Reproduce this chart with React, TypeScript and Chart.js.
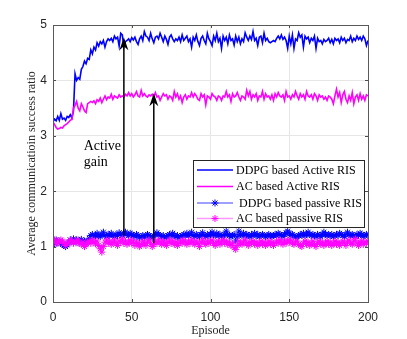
import React, { useEffect, useRef } from "react";
import { Chart, registerables } from "chart.js";

Chart.register(...registerables);

const episodes: number[] = Array.from({ length: 201 }, (_, i) => i);

const ddpgActive: number[] = [
  3.25, 3.3, 3.27, 3.35, 3.28, 3.4, 3.3, 3.32, 3.28, 3.35, 3.33, 3.38, 3.32, 3.45, 4.12,
  4.0, 4.05, 4.02, 4.2, 4.25, 4.35, 4.3, 4.4, 4.38, 4.55, 4.48, 4.6, 4.55, 4.68, 4.62,
  4.7, 4.66, 4.72, 4.6, 4.7, 4.75, 4.72, 4.76, 4.7, 4.8, 4.75, 4.78, 4.62, 4.85, 4.82,
  4.6, 4.7, 4.72, 4.75, 4.7, 4.77, 4.73, 4.78, 4.7, 4.65, 4.75, 4.8, 4.72, 4.88, 4.8,
  4.78, 4.72, 4.85, 4.75, 4.68, 4.78, 4.8, 4.75, 4.85, 4.78, 4.7, 4.8, 4.74, 4.65, 4.78,
  4.82, 4.75, 4.7, 4.75, 4.72, 4.78, 4.7, 4.82, 4.72, 4.76, 4.8, 4.7, 4.75, 4.6, 4.78,
  4.72, 4.82, 4.7, 4.63, 4.76, 4.8, 4.72, 4.66, 4.85, 4.75, 4.7, 4.63, 4.8, 4.72, 4.85,
  4.7, 4.76, 4.58, 4.8, 4.72, 4.78, 4.66, 4.82, 4.72, 4.75, 4.64, 4.8, 4.7, 4.78, 4.66,
  4.75, 4.7, 4.86, 4.78, 4.72, 4.8, 4.74, 4.88, 4.72, 4.76, 4.63, 4.78, 4.8, 4.68, 4.85,
  4.72, 4.76, 4.7, 4.68, 4.7, 4.72, 4.7, 4.76, 4.8, 4.75, 4.82, 4.74, 4.78, 4.72, 4.58,
  4.8, 4.66, 4.82, 4.58, 4.75, 4.72, 4.86, 4.78, 4.82, 4.6, 4.8, 4.75, 4.78, 4.68, 4.76,
  4.72, 4.8, 4.58, 4.76, 4.7, 4.72, 4.66, 4.74, 4.7, 4.72, 4.76, 4.68, 4.74, 4.66, 4.76,
  4.72, 4.75, 4.68, 4.78, 4.72, 4.76, 4.68, 4.74, 4.72, 4.8, 4.7, 4.76, 4.72, 4.8, 4.74,
  4.78, 4.72, 4.8, 4.75, 4.63, 4.72,
];

const acActive: number[] = [
  3.25, 3.2, 3.15, 3.12, 3.13, 3.15, 3.14, 3.18, 3.2, 3.22, 3.25, 3.28, 3.3, 3.5, 3.55,
  3.62, 3.5, 3.45, 3.58, 3.52, 3.45, 3.42, 3.58, 3.6, 3.62, 3.6, 3.63, 3.58, 3.65, 3.62,
  3.68, 3.6, 3.66, 3.72, 3.65, 3.7, 3.68, 3.75, 3.66, 3.72, 3.7, 3.68, 3.74, 3.7, 3.72,
  3.7, 3.75, 3.72, 3.78, 3.72, 3.76, 3.7, 3.74, 3.8, 3.72, 3.7, 3.82, 3.72, 3.76, 3.72,
  3.7, 3.74, 3.72, 3.75, 3.7, 3.78, 3.7, 3.72, 3.64, 3.7, 3.76, 3.72, 3.74, 3.66, 3.72,
  3.7, 3.64, 3.8, 3.7, 3.76, 3.66, 3.72, 3.6, 3.7, 3.74, 3.66, 3.72, 3.7, 3.78, 3.7,
  3.76, 3.72, 3.66, 3.64, 3.76, 3.7, 3.74, 3.56, 3.72, 3.7, 3.66, 3.76, 3.72, 3.7, 3.64,
  3.72, 3.7, 3.64, 3.72, 3.7, 3.8, 3.7, 3.74, 3.62, 3.76, 3.7, 3.72, 3.78, 3.7, 3.64,
  3.72, 3.7, 3.66, 3.82, 3.72, 3.8, 3.66, 3.74, 3.7, 3.76, 3.64, 3.72, 3.7, 3.8, 3.66,
  3.76, 3.7, 3.72, 3.66, 3.74, 3.64, 3.76, 3.7, 3.78, 3.72, 3.7, 3.74, 3.64, 3.8, 3.7,
  3.72, 3.66, 3.74, 3.7, 3.8, 3.72, 3.66, 3.76, 3.7, 3.74, 3.66, 3.8, 3.72, 3.7, 3.74,
  3.66, 3.76, 3.72, 3.64, 3.74, 3.7, 3.72, 3.66, 3.7, 3.64, 3.72, 3.7, 3.66, 3.58, 3.72,
  3.84, 3.7, 3.78, 3.6, 3.74, 3.8, 3.66, 3.6, 3.72, 3.64, 3.78, 3.58, 3.7, 3.74, 3.64,
  3.76, 3.66, 3.72, 3.64, 3.74, 3.72,
];

const ddpgPassive: number[] = [
  1.1, 1.05, 1.12, 1.08, 1.1, 1.06, 1.04, 1.02, 1.0, 1.03, 1.08, 1.12, 1.1, 1.14, 1.1,
  1.12, 1.08, 1.1, 1.13, 1.08, 1.1, 1.06, 1.1, 1.15, 1.2, 1.22, 1.18, 1.2, 1.24, 1.2,
  1.18, 1.22, 1.26, 1.2, 1.18, 1.22, 1.2, 1.24, 1.2, 1.18, 1.22, 1.2, 1.25, 1.22, 1.2,
  1.24, 1.26, 1.22, 1.2, 1.24, 1.22, 1.2, 1.18, 1.22, 1.2, 1.16, 1.18, 1.2, 1.16, 1.2,
  1.22, 1.2, 1.18, 1.16, 1.2, 1.22, 1.25, 1.22, 1.2, 1.18, 1.2, 1.16, 1.18, 1.2, 1.22,
  1.2, 1.24, 1.2, 1.18, 1.2, 1.16, 1.18, 1.2, 1.22, 1.2, 1.24, 1.2, 1.22, 1.26, 1.2,
  1.18, 1.22, 1.2, 1.18, 1.22, 1.25, 1.2, 1.18, 1.22, 1.2, 1.22, 1.26, 1.22, 1.2, 1.24,
  1.2, 1.22, 1.18, 1.2, 1.22, 1.28, 1.22, 1.2, 1.18, 1.2, 1.22, 1.1, 1.18, 1.28, 1.22,
  1.2, 1.24, 1.2, 1.22, 1.2, 1.18, 1.22, 1.2, 1.24, 1.2, 1.22, 1.18, 1.2, 1.22, 1.2,
  1.18, 1.2, 1.22, 1.2, 1.18, 1.2, 1.22, 1.2, 1.24, 1.22, 1.2, 1.18, 1.22, 1.25, 1.28,
  1.24, 1.2, 1.22, 1.2, 1.16, 1.18, 1.2, 1.22, 1.2, 1.24, 1.2, 1.22, 1.26, 1.22, 1.2,
  1.22, 1.2, 1.18, 1.22, 1.2, 1.18, 1.22, 1.26, 1.22, 1.2, 1.22, 1.2, 1.22, 1.18, 1.2,
  1.22, 1.2, 1.24, 1.22, 1.2, 1.18, 1.22, 1.26, 1.22, 1.2, 1.22, 1.2, 1.18, 1.22, 1.2,
  1.24, 1.22, 1.18, 1.2, 1.22, 1.2,
];

const acPassive: number[] = [
  1.08, 1.12, 1.05, 1.1, 1.08, 1.12, 1.1, 1.06, 1.02, 1.05, 1.08, 1.12, 1.1, 1.06, 1.1,
  1.08, 1.12, 1.06, 1.04, 1.08, 1.0, 1.04, 1.08, 1.1, 1.06, 1.12, 1.08, 1.05, 1.1, 1.02,
  0.96, 0.9, 1.0, 1.08, 1.12, 1.06, 1.1, 1.04, 1.08, 1.12, 1.06, 1.02, 1.1, 1.08, 1.14,
  1.06, 1.1, 1.04, 1.08, 1.12, 1.06, 1.1, 1.02, 1.08, 1.06, 1.0, 1.04, 1.1, 1.06, 1.02,
  1.08, 1.12, 1.06, 1.0, 1.04, 1.1, 1.06, 1.12, 1.08, 1.04, 1.1, 1.06, 1.02, 1.08, 1.12,
  1.06, 1.1, 1.04, 1.08, 1.02, 1.06, 1.1, 1.06, 1.12, 1.08, 1.04, 1.1, 1.06, 1.12, 1.08,
  1.04, 1.1, 1.06, 1.0, 1.08, 1.12, 1.06, 1.04, 1.1, 1.06, 1.08, 1.12, 1.06, 1.02, 1.08,
  1.1, 1.04, 1.08, 1.12, 1.06, 1.1, 1.04, 1.08, 1.02, 1.06, 0.98, 0.95, 1.02, 1.1, 1.06,
  1.04, 1.08, 1.12, 1.06, 1.02, 1.08, 1.06, 1.1, 1.04, 1.08, 1.02, 1.06, 1.1, 1.04, 1.08,
  1.02, 1.06, 1.1, 1.04, 1.08, 1.02, 1.06, 1.1, 1.06, 1.12, 1.08, 1.04, 1.1, 1.06, 1.12,
  1.08, 1.12, 1.06, 1.04, 1.08, 1.1, 1.04, 1.02, 1.0, 1.06, 1.1, 1.04, 1.08, 1.02, 1.06,
  1.1, 1.04, 1.0, 1.06, 1.1, 1.04, 1.08, 1.02, 1.06, 1.1, 1.04, 1.08, 1.02, 1.06, 1.1,
  1.04, 1.08, 1.02, 1.06, 1.1, 1.06, 1.02, 1.08, 1.12, 1.06, 1.04, 1.1, 1.14, 1.06, 1.02,
  1.08, 1.1, 1.04, 1.08, 1.06, 1.1,
];

const seriesNames: string[] = [
  "DDPG based Active RIS",
  "AC based Active RIS",
  " DDPG based passive RIS",
  "AC based passive RIS",
];

// arrows: episode, start value, tip value
const arrowEpisodes: number[] = [45, 64];
const arrowFrom: number[] = [1.2, 1.06];
const arrowTo: number[] = [4.78, 3.77];

const annotationLines: string[] = ["Active", "gain"];
const annotationAt: number[] = [19.5, 2.75];

const xTicks: number[] = [0, 50, 100, 150, 200];
const yTicks: number[] = [0, 1, 2, 3, 4, 5];

const BLUE = "#0000ff";
const MAGENTA = "#ff00ff";
const SERIF = "'Liberation Serif', 'Times New Roman', serif";
const SANS = "'Liberation Sans', Arial, sans-serif";

function drawStar(ctx: CanvasRenderingContext2D, x: number, y: number, r: number, color: string) {
  ctx.save();
  ctx.strokeStyle = color;
  ctx.lineWidth = 1;
  ctx.beginPath();
  ctx.moveTo(x - r, y);
  ctx.lineTo(x + r, y);
  ctx.moveTo(x, y - r);
  ctx.lineTo(x, y + r);
  const d = r * 0.707;
  ctx.moveTo(x - d, y - d);
  ctx.lineTo(x + d, y + d);
  ctx.moveTo(x - d, y + d);
  ctx.lineTo(x + d, y - d);
  ctx.stroke();
  ctx.restore();
}

const overlayPlugin = {
  id: "overlay",
  afterDatasetsDraw(chart: any) {
    const ctx: CanvasRenderingContext2D = chart.ctx;
    const xs = chart.scales.x;
    const ys = chart.scales.y;
    const { left, right, top, bottom } = chart.chartArea;

    ctx.save();
    // arrows
    ctx.strokeStyle = "#000";
    ctx.fillStyle = "#000";
    ctx.lineWidth = 1.5;
    arrowEpisodes.forEach((ep, i) => {
      const x = xs.getPixelForValue(ep);
      const y0 = ys.getPixelForValue(arrowFrom[i]);
      const y1 = ys.getPixelForValue(arrowTo[i]);
      ctx.beginPath();
      ctx.moveTo(x, y0);
      ctx.lineTo(x, y1 + 8);
      ctx.stroke();
      ctx.beginPath();
      ctx.moveTo(x, y1);
      ctx.lineTo(x - 4.5, y1 + 13);
      ctx.lineTo(x, y1 + 9);
      ctx.lineTo(x + 4.5, y1 + 13);
      ctx.closePath();
      ctx.fill();
    });

    // annotation text
    ctx.font = `14px ${SERIF}`;
    ctx.fillStyle = "#000";
    ctx.textAlign = "left";
    ctx.textBaseline = "alphabetic";
    const ax = xs.getPixelForValue(annotationAt[0]);
    const ay = ys.getPixelForValue(annotationAt[1]);
    annotationLines.forEach((t, i) => ctx.fillText(t, ax, ay + i * 16));

    // inner ticks
    ctx.strokeStyle = "#4d4d4d";
    ctx.lineWidth = 1;
    ctx.beginPath();
    xTicks.forEach((v) => {
      const x = Math.round(xs.getPixelForValue(v)) + 0.5;
      ctx.moveTo(x, bottom);
      ctx.lineTo(x, bottom - 3);
      ctx.moveTo(x, top);
      ctx.lineTo(x, top + 3);
    });
    yTicks.forEach((v) => {
      const y = Math.round(ys.getPixelForValue(v)) + 0.5;
      ctx.moveTo(left, y);
      ctx.lineTo(left + 3, y);
      ctx.moveTo(right, y);
      ctx.lineTo(right - 3, y);
    });
    ctx.stroke();

    // frame
    ctx.strokeStyle = "#5a5a5a";
    ctx.strokeRect(Math.round(left) + 0.5, Math.round(top) + 0.5, Math.round(right - left), Math.round(bottom - top));

    // legend
    const lx = 193.5;
    const ly = 160.5;
    const lw = 171;
    const lh = 67;
    ctx.fillStyle = "#fff";
    ctx.fillRect(lx, ly, lw, lh);
    ctx.strokeStyle = "#262626";
    ctx.lineWidth = 1;
    ctx.strokeRect(lx, ly, lw, lh);
    const colors = [BLUE, MAGENTA, BLUE, MAGENTA];
    const light = ["#0000ff", "#ff00ff", "rgba(0,0,255,0.5)", "rgba(255,0,255,0.4)"];
    const rowsY = [170, 186.5, 203, 218.5];
    ctx.font = `12px ${SERIF}`;
    ctx.textBaseline = "middle";
    seriesNames.forEach((name, i) => {
      const y = rowsY[i];
      ctx.strokeStyle = light[i];
      ctx.lineWidth = 1.5;
      ctx.beginPath();
      ctx.moveTo(197, y);
      ctx.lineTo(233, y);
      ctx.stroke();
      if (i >= 2) drawStar(ctx, 215, y, 3.5, colors[i]);
      ctx.fillStyle = "#000";
      ctx.fillText(name, 236, y + 0.5);
    });

    // axis titles
    ctx.fillStyle = "#262626";
    ctx.font = `12px ${SERIF}`;
    ctx.textAlign = "center";
    ctx.textBaseline = "middle";
    ctx.fillText("Episode", (left + right) / 2, 331);
    ctx.save();
    ctx.translate(32, (top + bottom) / 2);
    ctx.rotate(-Math.PI / 2);
    ctx.fillText("Average communicatioin success ratio", 0, 0);
    ctx.restore();

    ctx.restore();
  },
};

export default function App() {
  const ref = useRef<HTMLCanvasElement | null>(null);

  useEffect(() => {
    if (!ref.current) return;
    const chart = new Chart(ref.current, {
      type: "line",
      data: {
        labels: episodes,
        datasets: [
          {
            label: seriesNames[0],
            data: ddpgActive,
            borderColor: BLUE,
            borderWidth: 1.6,
            pointRadius: 0,
            tension: 0,
            order: 2,
          },
          {
            label: seriesNames[1],
            data: acActive,
            borderColor: MAGENTA,
            borderWidth: 1.6,
            pointRadius: 0,
            tension: 0,
            order: 1,
          },
          {
            label: seriesNames[2],
            data: ddpgPassive,
            borderColor: "rgba(0,0,255,0.5)",
            borderWidth: 1,
            pointStyle: "star",
            pointRadius: 3.5,
            pointBorderColor: BLUE,
            pointBackgroundColor: BLUE,
            pointBorderWidth: 1,
            tension: 0,
            order: 4,
          },
          {
            label: seriesNames[3],
            data: acPassive,
            borderColor: "rgba(255,0,255,0.45)",
            borderWidth: 1,
            pointStyle: "star",
            pointRadius: 3.5,
            pointBorderColor: MAGENTA,
            pointBackgroundColor: MAGENTA,
            pointBorderWidth: 1,
            tension: 0,
            order: 3,
          },
        ],
      },
      options: {
        responsive: false,
        animation: false,
        events: [],
        layout: { padding: { top: 25, right: 39, left: 0, bottom: 0 } },
        plugins: { legend: { display: false }, tooltip: { enabled: false }, title: { display: false } },
        scales: {
          x: {
            type: "linear",
            min: 0,
            max: 200,
            afterBuildTicks: (s: any) => {
              s.ticks = xTicks.map((v) => ({ value: v }));
            },
            afterFit: (s: any) => {
              s.height = 37;
            },
            grid: { color: "#e6e6e6", drawTicks: false, lineWidth: 1 },
            border: { display: false },
            ticks: { padding: 8, color: "#262626", font: { family: SANS, size: 12 }, maxRotation: 0 },
          },
          y: {
            type: "linear",
            min: 0,
            max: 5,
            afterBuildTicks: (s: any) => {
              s.ticks = yTicks.map((v) => ({ value: v }));
            },
            afterFit: (s: any) => {
              s.width = 53;
            },
            grid: { color: "#e6e6e6", drawTicks: false, lineWidth: 1 },
            border: { display: false },
            ticks: { padding: 6, color: "#262626", font: { family: SANS, size: 12 } },
          },
        },
      },
      plugins: [overlayPlugin],
    } as any);
    return () => chart.destroy();
  }, []);

  return (
    <div style={{ position: "absolute", left: 0, top: 0, width: 407, height: 339, background: "#fff" }}>
      <canvas ref={ref} width={407} height={339} style={{ display: "block" }} />
    </div>
  );
}
